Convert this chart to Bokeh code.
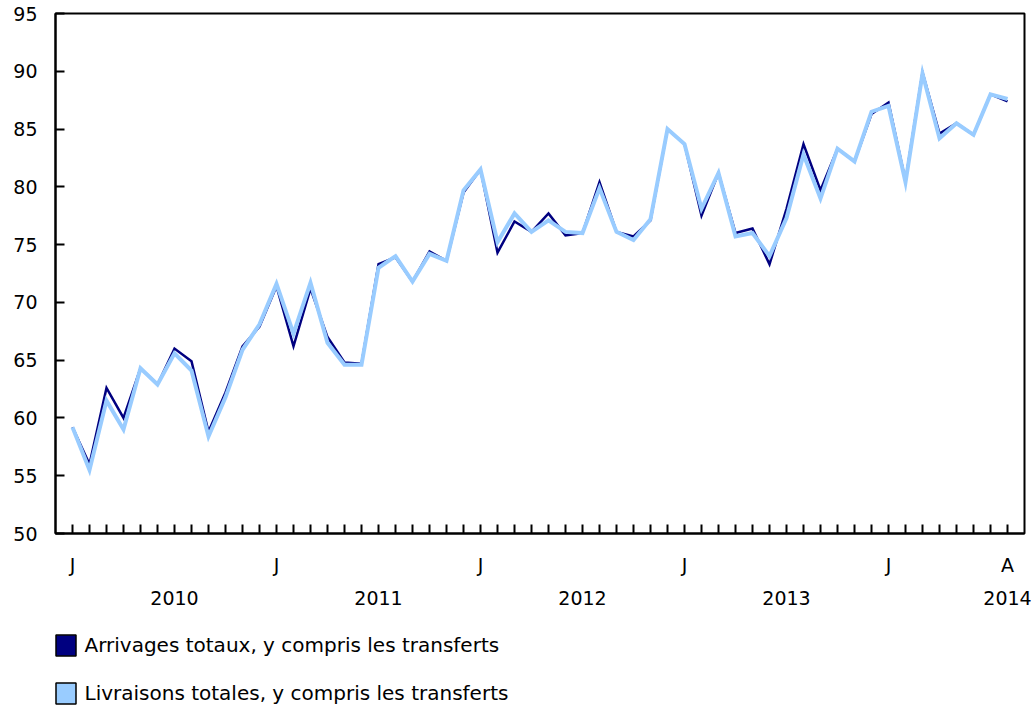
from bokeh.plotting import figure
from bokeh.layouts import column
from bokeh.models import FixedTicker, LinearAxis, Legend, LegendItem, Range1d, ColumnDataSource
from bokeh.embed import file_html
from bokeh.resources import INLINE

# Monthly periods, January 2010 to August 2014
periods = [f"{y}-{m:02d}" for y in range(2010, 2015) for m in range(1, 13)][:56]

arrivages = [59.2, 56.0, 62.6, 60.0, 64.3, 62.9, 66.0, 64.9, 58.8, 62.2, 66.2, 67.9,
             71.4, 66.2, 71.2, 67.0, 64.8, 64.7, 73.3, 73.9, 71.8, 74.4, 73.6, 79.5,
             81.5, 74.3, 77.0, 76.1, 77.7, 75.8, 76.0, 80.4, 76.1, 75.7, 77.1, 85.0,
             83.7, 77.5, 81.2, 76.0, 76.4, 73.3, 78.1, 83.7, 79.7, 83.3, 82.2, 86.3,
             87.3, 80.5, 89.9, 84.6, 85.5, 84.5, 88.0, 87.4]

livraisons = [59.2, 55.5, 61.5, 59.0, 64.3, 62.9, 65.6, 64.1, 58.4, 61.8, 65.9, 68.1,
              71.6, 67.3, 71.7, 66.5, 64.6, 64.6, 73.0, 74.0, 71.8, 74.2, 73.6, 79.7,
              81.5, 75.2, 77.7, 76.1, 77.1, 76.1, 76.0, 79.9, 76.1, 75.4, 77.2, 85.0,
              83.7, 78.1, 81.2, 75.7, 76.0, 74.0, 77.3, 82.8, 79.0, 83.3, 82.2, 86.5,
              87.0, 80.4, 89.8, 84.2, 85.5, 84.5, 88.0, 87.6]

y_ticks = [50, 55, 60, 65, 70, 75, 80, 85, 90, 95]
month_letters = {"01": "J"}
last_letter = "A"
year_labels = ["2010", "2011", "2012", "2013", "2014"]
series_names = ["Arrivages totaux, y compris les transferts",
                "Livraisons totales, y compris les transferts"]
colors = ["#000080", "#99CCFF"]

FONT = "DejaVu Sans"
TICK_SIZE = "19px"

x = list(range(len(periods)))
source = ColumnDataSource(dict(x=x, arr=arrivages, liv=livraisons))

p = figure(width=1032, height=610, output_backend="svg", toolbar_location=None,
           x_range=Range1d(-1, len(periods)), y_range=Range1d(50, 95),
           min_border_left=55, min_border_right=8, min_border_top=13,
           min_border_bottom=77)
p.grid.visible = False
p.outline_line_color = "black"
p.outline_line_width = 2
p.background_fill_color = "white"
p.border_fill_color = "white"

p.line("x", "arr", source=source, color=colors[0], line_width=2.5, line_join="miter")
p.line("x", "liv", source=source, color=colors[1], line_width=4, line_join="miter")

# y axis
ya = p.yaxis[0]
ya.ticker = FixedTicker(ticks=y_ticks)
ya.major_tick_in = 9
ya.major_tick_out = 0
ya.major_tick_line_width = 2
ya.major_tick_line_color = "black"
ya.axis_line_width = 2
ya.axis_line_color = "black"
ya.minor_tick_line_color = None
ya.major_label_text_font = FONT
ya.major_label_text_font_size = TICK_SIZE
ya.major_label_text_color = "black"
ya.major_label_standoff = 18

# month axis
xa = p.xaxis[0]
xa.ticker = FixedTicker(ticks=x)
overrides = {}
for i, per in enumerate(periods):
    overrides[i] = month_letters.get(per[5:], "")
overrides[len(periods) - 1] = last_letter
xa.major_label_overrides = overrides
xa.major_tick_in = 9
xa.major_tick_out = 0
xa.major_tick_line_width = 2
xa.major_tick_line_color = "black"
xa.axis_line_width = 2
xa.axis_line_color = "black"
xa.minor_tick_line_color = None
xa.major_label_text_font = FONT
xa.major_label_text_font_size = TICK_SIZE
xa.major_label_text_color = "black"
xa.major_label_standoff = 20

# year axis: mid-year for full years, last month for the partial year
year_pos = []
for yl in year_labels:
    idx = [i for i, per in enumerate(periods) if per.startswith(yl)]
    year_pos.append(idx[6] if len(idx) == 12 else idx[-1])
year_axis = LinearAxis(ticker=FixedTicker(ticks=year_pos),
                       major_label_overrides={pos: lab for pos, lab in zip(year_pos, year_labels)},
                       axis_line_color=None, major_tick_line_color=None,
                       minor_tick_line_color=None, major_tick_in=0, major_tick_out=0,
                       major_label_text_font=FONT, major_label_text_font_size=TICK_SIZE,
                       major_label_text_color="black", major_label_standoff=12)
p.add_layout(year_axis, "below")

# legend figure (separate panel below the chart)
lg = figure(width=1032, height=96, output_backend="svg", toolbar_location=None,
            x_range=Range1d(-1, len(periods)), y_range=Range1d(50, 95),
            x_axis_type=None, y_axis_type=None,
            min_border_left=0, min_border_right=0, min_border_top=0, min_border_bottom=0)
lg.grid.visible = False
lg.outline_line_color = None
lg.border_fill_color = "white"
r1 = lg.vbar(x="x", top="arr", width=0.5, source=source, fill_color=colors[0],
             line_color="black", line_width=1.5, visible=False)
r2 = lg.vbar(x="x", top="liv", width=0.5, source=source, fill_color=colors[1],
             line_color="black", line_width=1.5, visible=False)
legend = Legend(items=[LegendItem(label=series_names[0], renderers=[r1]),
                       LegendItem(label=series_names[1], renderers=[r2])],
                location=(-2.5, 0), orientation="vertical",
                glyph_width=25, glyph_height=26, spacing=22, padding=0, margin=0,
                label_standoff=7, border_line_color=None, background_fill_alpha=0,
                label_text_font=FONT, label_text_font_size="20px", label_text_color="black")
lg.add_layout(legend, "center")

layout = column(p, lg, spacing=0)
open("out.html", "w").write(file_html(layout, INLINE))
